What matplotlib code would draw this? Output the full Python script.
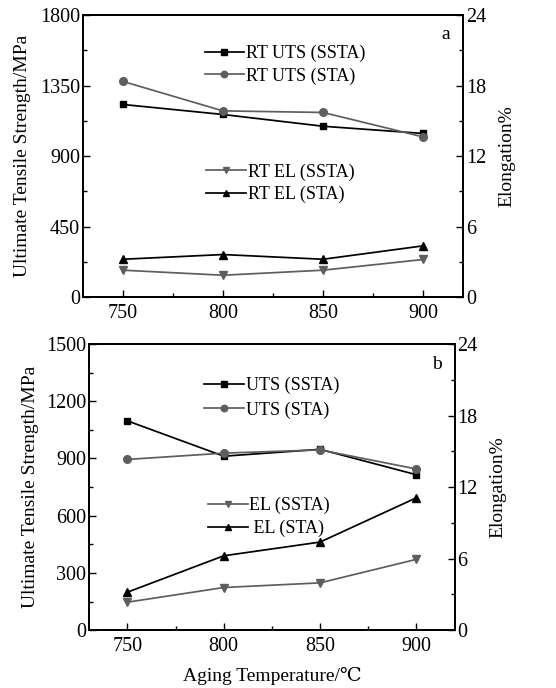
import matplotlib.pyplot as plt
from matplotlib.ticker import MultipleLocator

plt.rcParams['font.family'] = ['Liberation Serif', 'DejaVu Serif', 'Noto Sans CJK SC']

temps = [750, 800, 850, 900]

# (a) room temperature
rt_uts_ssta = [1230, 1166, 1091, 1045]
rt_uts_sta = [1377, 1189, 1179, 1023]
rt_el_ssta = [2.30, 1.87, 2.30, 3.21]
rt_el_sta = [3.23, 3.63, 3.23, 4.37]

# (b)
uts_ssta = [1097, 912, 948, 815]
uts_sta = [895, 928, 945, 845]
el_ssta = [2.35, 3.58, 3.97, 5.94]
el_sta = [3.19, 6.24, 7.39, 11.1]

GRAY = '#5e5e5e'
BLACK = '#000000'

fig = plt.figure(figsize=(5.56, 6.88), dpi=100)


def style_axes(ax, ax2, ymax, ystep, yminor, pads):
    ax.set_xlim(730, 920)
    ax.set_ylim(0, ymax)
    ax2.set_ylim(0, 24)
    ax.xaxis.set_major_locator(MultipleLocator(50))
    ax.xaxis.set_minor_locator(MultipleLocator(25))
    ax.yaxis.set_major_locator(MultipleLocator(ystep))
    ax.yaxis.set_minor_locator(MultipleLocator(yminor))
    ax2.yaxis.set_major_locator(MultipleLocator(6))
    ax2.yaxis.set_minor_locator(MultipleLocator(3))
    for a in (ax, ax2):
        a.tick_params(which='both', direction='in', labelsize=14.5, top=False)
        a.tick_params(which='major', length=5, width=1)
        a.tick_params(which='minor', length=3, width=1)
        for s in a.spines.values():
            s.set_linewidth(1.3)
    ax.tick_params(axis='x', pad=5)
    ax.tick_params(axis='y', pad=2)
    ax2.tick_params(axis='y', pad=2)
    ax.set_ylabel('Ultimate Tensile Strength/MPa', fontsize=14, labelpad=pads[0])
    ax2.set_ylabel('Elongation%', fontsize=14, labelpad=pads[1])


def panel(rect, ymax, ystep, yminor, uts1, uts2, el1, el2, names, tag, leg1, leg2, sp1, pads):
    ax = fig.add_axes(rect)
    ax2 = ax.twinx()
    l1, = ax.plot(temps, uts1, color=BLACK, marker='s', ms=5, lw=1.25, label=names[0])
    l2, = ax.plot(temps, uts2, color=GRAY, marker='o', ms=5.5, lw=1.25, label=names[1])
    l3, = ax2.plot(temps, el1, color=GRAY, marker='v', ms=5.5, lw=1.25, label=names[2])
    l4, = ax2.plot(temps, el2, color=BLACK, marker='^', ms=5.5, lw=1.25, label=names[3])
    style_axes(ax, ax2, ymax, ystep, yminor, pads)
    kw = dict(frameon=False, fontsize=13, loc='upper left', borderpad=0, markerscale=0.85,
              borderaxespad=0, handlelength=2.2, handletextpad=0.1)
    ax2.legend(handles=[l1, l2], bbox_to_anchor=leg1, labelspacing=sp1, **kw)
    ax2.add_artist(ax2.get_legend())
    ax2.legend(handles=[l3, l4], bbox_to_anchor=leg2, labelspacing=0.3, **kw)
    ax2.text(0.965, 0.93, tag, transform=ax2.transAxes, fontsize=14, ha='right', va='center')
    return ax


panel([0.149, 0.568, 0.684, 0.410], 1800, 450, 225,
      rt_uts_ssta, rt_uts_sta, rt_el_ssta, rt_el_sta,
      ['RT UTS (SSTA)', 'RT UTS (STA)', 'RT EL (SSTA)', 'RT EL (STA)'],
      'a', (0.32, 0.895), (0.325, 0.475), 0.3, (6.5, 9))

axb = panel([0.160, 0.084, 0.658, 0.416], 1500, 300, 150,
            uts_ssta, uts_sta, el_ssta, el_sta,
            ['UTS (SSTA)', 'UTS (STA)', 'EL (SSTA)', ' EL (STA)'],
            'b', (0.315, 0.885), (0.325, 0.465), 0.4, (5, 8))
axb.set_xlabel('Aging Temperature/℃', fontsize=14, labelpad=8)

fig.savefig('out.png', dpi=100)
